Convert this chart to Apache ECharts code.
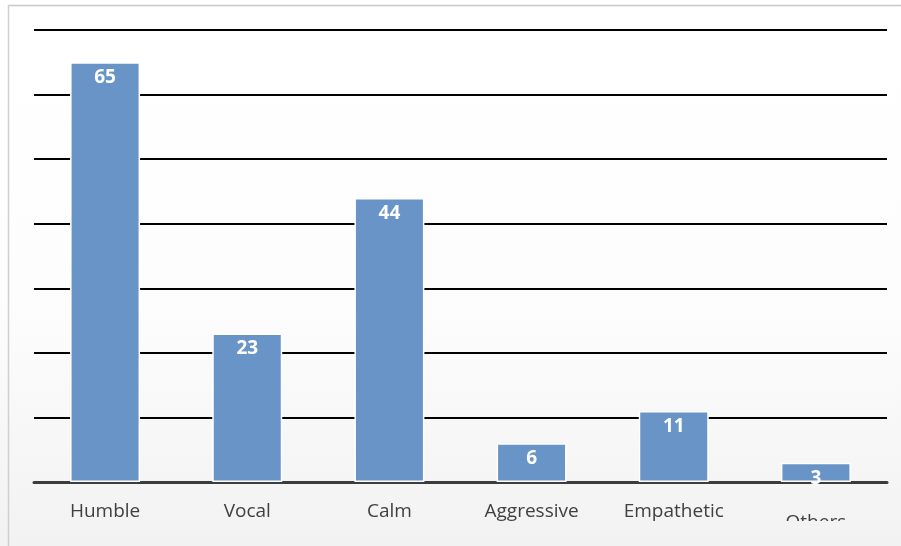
<!DOCTYPE html>
<html>
<head>
<meta charset="utf-8">
<script src="https://cdn.jsdelivr.net/npm/echarts@6/dist/echarts.min.js"></script>
<style>
  html, body { margin: 0; padding: 0; background: #ffffff; }
  #chart { width: 901px; height: 546px; }
</style>
</head>
<body>
<div id="chart"></div>
<script>
// Traits and how many responses named each one
const categories = ['Humble', 'Vocal', 'Calm', 'Aggressive', 'Empathetic', 'Others'];
const counts = [65, 23, 44, 6, 11, 3];

// Value axis range (gridlines every 10, labels hidden)
const axisMin = 0;
const axisMax = 70;
const axisStep = 10;

const chart = echarts.init(document.getElementById('chart'), null, { renderer: 'canvas' });

// shared page shading, in canvas coordinates so the bottom band blends in
function shade() {
  return new echarts.graphic.LinearGradient(0, 0, 0, 546, [
    { offset: 0, color: '#ffffff' },
    { offset: 0.55, color: '#fdfdfd' },
    { offset: 1, color: '#f2f2f2' }
  ], true);
}

const fontStack = 'Open Sans, Liberation Sans, sans-serif';

chart.setOption({
  animation: false,
  backgroundColor: shade(),
  grid: { left: 34, right: 14, top: 30, bottom: 64, containLabel: false, outerBoundsMode: 'none' },
  xAxis: {
    type: 'category',
    data: categories,
    axisTick: { show: false },
    axisLine: { show: true, lineStyle: { color: '#3c3c3c', width: 3 } },
    axisLabel: {
      interval: 0,
      color: '#404040',
      fontFamily: fontStack,
      fontSize: 19,
      margin: 20,
      formatter: function (v) { return v === 'Others' ? '{low|' + v + '}' : v; },
      rich: {
        low: {
          color: '#404040',
          fontFamily: fontStack,
          fontSize: 19,
          padding: [11, 0, 0, 0]
        }
      }
    }
  },
  yAxis: {
    type: 'value',
    min: axisMin,
    max: axisMax,
    interval: axisStep,
    axisLabel: { show: false },
    axisLine: { show: false },
    axisTick: { show: false },
    splitLine: { show: true, lineStyle: { color: '#000000', width: 2 } }
  },
  series: [{
    type: 'bar',
    data: counts,
    barWidth: 70,
    itemStyle: { color: '#6994c7', borderColor: '#ffffff', borderWidth: 1.5 },
    label: {
      show: true,
      position: 'insideTop',
      distance: 6,
      color: '#ffffff',
      fontWeight: 'bold',
      fontSize: 19,
      fontFamily: fontStack
    }
  }],
  graphic: [
    // lower band that trims the last category label
    { type: 'rect', silent: true, z: 100,
      shape: { x: 9, y: 521, width: 892, height: 25 },
      style: { fill: shade() } },
    // frame lines on top and left
    { type: 'line', silent: true, z: 101,
      shape: { x1: 8, y1: 5.5, x2: 901, y2: 5.5 },
      style: { stroke: '#c8c8c8', lineWidth: 1.5 } },
    { type: 'line', silent: true, z: 101,
      shape: { x1: 8.5, y1: 5, x2: 8.5, y2: 546 },
      style: { stroke: '#cfcfcf', lineWidth: 1.5 } }
  ]
});
</script>
</body>
</html>
